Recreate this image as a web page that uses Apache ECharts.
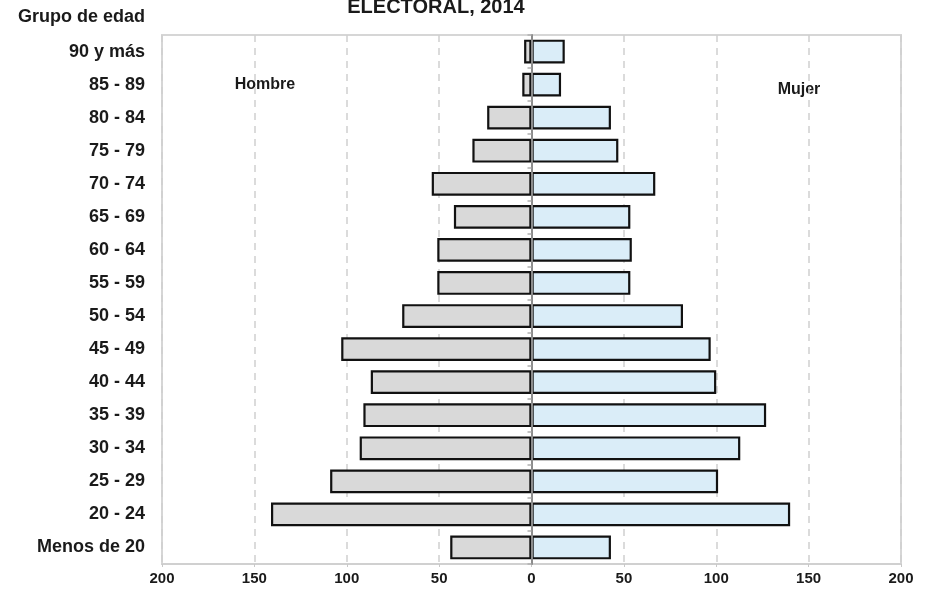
<!DOCTYPE html>
<html>
<head>
<meta charset="utf-8">
<script src="https://cdn.jsdelivr.net/npm/echarts@6/dist/echarts.min.js"></script>
<style>
html,body{margin:0;padding:0;background:#fff;}
#chart{width:925px;height:590px;}
</style>
</head>
<body>
<div id="chart"></div>
<script>
const categories = ['Menos de 20','20 - 24','25 - 29','30 - 34','35 - 39','40 - 44','45 - 49','50 - 54','55 - 59','60 - 64','65 - 69','70 - 74','75 - 79','80 - 84','85 - 89','90 y más'];
const hombre = [44,141,109,93,91,87,103,70,51,51,42,54,32,24,5,4];
const mujer = [43,140,101,113,127,100,97,82,53.5,54.3,53.5,67,47,43,16,18];
const xTicks = [-200,-150,-100,-50,0,50,100,150,200];
const titleText = 'ELECTORAL, 2014';
const yAxisTitle = 'Grupo de edad';
const seriesNames = ['Hombre','Mujer'];

const FONT = '"Liberation Sans", Arial, sans-serif';
const chart = echarts.init(document.getElementById('chart'), null, {renderer:'canvas'});

chart.setOption({
  animation:false,
  backgroundColor:'#ffffff',
  grid:{left:162,right:24,top:35,bottom:26,show:true,borderColor:'#d6d6d6',borderWidth:2,backgroundColor:'transparent',outerBoundsMode:'none'},
  xAxis:{
    type:'value', min:xTicks[0], max:xTicks[xTicks.length-1], interval:50,
    axisLine:{show:true,lineStyle:{color:'#d0d0d0',width:2}},
    axisTick:{show:true,length:3,lineStyle:{color:'#c8c8c8'}},
    axisLabel:{formatter:v=>Math.abs(v),fontFamily:FONT,fontWeight:'bold',fontSize:15,color:'#1a1a1a',margin:7},
    splitLine:{show:true,lineStyle:{color:'#cfcfcf',type:[7,6],width:1.5}}
  },
  yAxis:[{
    type:'category', data:categories,
    axisLine:{show:false}, axisTick:{show:false},
    axisLabel:{fontFamily:FONT,fontWeight:'bold',fontSize:18,color:'#1a1a1a',margin:17},
    splitLine:{show:false}
  },{
    type:'category', data:categories, position:'left', offset:-369.5, z:5,
    axisLine:{show:true,onZero:false,lineStyle:{color:'#8c8c8c',width:2}},
    axisTick:{show:true,length:4,lineStyle:{color:'#b0b0b0',width:1.5}},
    axisLabel:{show:false}, splitLine:{show:false}
  }],
  series:[{
    name:seriesNames[0], type:'bar', yAxisIndex:0, stack:'p', barWidth:'72%',
    data:hombre.map(v=>-v),
    itemStyle:{color:'#d9d9d9',borderColor:'#111',borderWidth:2.2}
  },{
    name:seriesNames[1], type:'bar', yAxisIndex:0, stack:'p', barWidth:'72%',
    data:mujer,
    itemStyle:{color:'#daedf8',borderColor:'#111',borderWidth:2.2}
  }],
  graphic:[
    {type:'text',x:436,y:7,style:{text:titleText,font:'bold 20px '+FONT,fill:'#1a1a1a',textAlign:'center',textVerticalAlign:'middle'}},
    {type:'text',x:145,y:17,style:{text:yAxisTitle,font:'bold 18px '+FONT,fill:'#1a1a1a',textAlign:'right',textVerticalAlign:'middle'}},
    {type:'text',x:265,y:85,style:{text:seriesNames[0],font:'bold 16px '+FONT,fill:'#1a1a1a',textAlign:'center',textVerticalAlign:'middle'}},
    {type:'text',x:799,y:90,style:{text:seriesNames[1],font:'bold 16px '+FONT,fill:'#1a1a1a',textAlign:'center',textVerticalAlign:'middle'}}
  ]
});
</script>
</body>
</html>
